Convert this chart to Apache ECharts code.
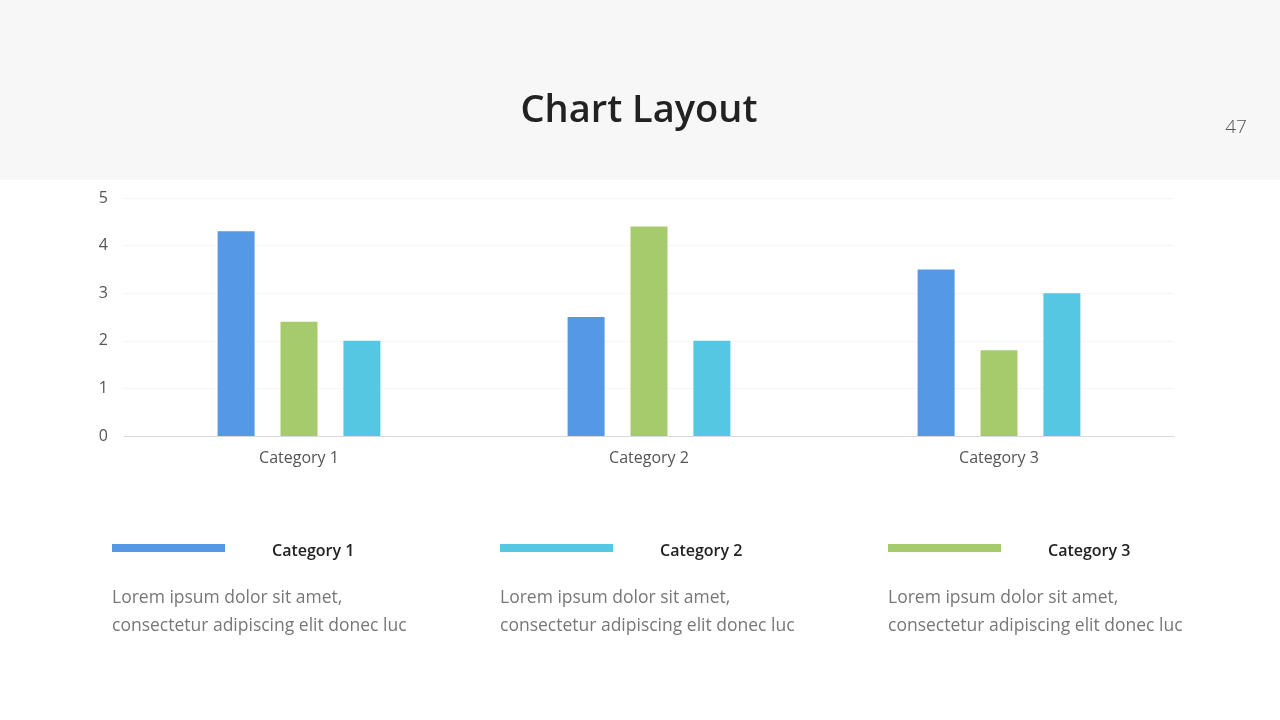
<!DOCTYPE html>
<html><head><meta charset="utf-8">
<script src="https://cdn.jsdelivr.net/npm/echarts@6/dist/echarts.min.js"></script>
<style>html,body{margin:0;padding:0;background:#fff}#c{width:1280px;height:720px}</style>
</head><body><div id="c"></div>
<script>
const categories = ['Category 1','Category 2','Category 3'];
const series1 = [4.3, 2.5, 3.5];
const series2 = [2.4, 4.4, 1.8];
const series3 = [2.0, 2.0, 3.0];
const yTicks = [0,1,2,3,4,5];
const legendTitles = ['Category 1','Category 2','Category 3'];
const legendText = ['Lorem ipsum dolor sit amet,','consectetur adipiscing elit donec luc'];
const colors = ['#5599E6','#A6CB6C','#56C7E3'];
const legendColors = ['#5599E6','#56C7E3','#A6CB6C'];
const FONT = '"Open Sans", sans-serif';

const chart = echarts.init(document.getElementById('c'));
const graphics = [
  {type:'rect', shape:{x:0,y:0,width:1280,height:180}, style:{fill:'#F7F7F7'}, z:-10},
  {type:'text', x:639, y:111, style:{text:'Chart Layout', fontSize:38, fontFamily:FONT, fontWeight:600, fill:'#222', align:'center', verticalAlign:'middle'}},
  {type:'text', x:1236, y:128, style:{text:'47', fontSize:19, fontFamily:FONT, fontWeight:300, fill:'#555', align:'center', verticalAlign:'middle'}}
];
const xs = [112, 500, 888];
xs.forEach((x,i)=>{
  graphics.push({type:'rect', shape:{x:x,y:544,width:113,height:8}, style:{fill:legendColors[i]}});
  graphics.push({type:'text', x:x+160, y:551, style:{text:legendTitles[i], fontSize:16, fontFamily:FONT, fontWeight:600, fill:'#222', verticalAlign:'middle'}});
  graphics.push({type:'text', x:x, y:598, style:{text:legendText[0], fontSize:17.5, fontFamily:FONT, fill:'#777', verticalAlign:'middle'}});
  graphics.push({type:'text', x:x, y:626, style:{text:legendText[1], fontSize:17.5, fontFamily:FONT, fill:'#777', verticalAlign:'middle'}});
});

chart.setOption({
  animation:false,
  color: colors,
  grid:{left:124, right:106, top:198, bottom:284},
  graphic: graphics,
  xAxis:{type:'category', data:categories,
    axisLine:{lineStyle:{color:'#D9D9D9'}}, axisTick:{show:false},
    axisLabel:{color:'#555', fontSize:16, fontFamily:FONT, margin:14}},
  yAxis:{type:'value', min:yTicks[0], max:yTicks[yTicks.length-1], interval:1,
    axisLine:{show:false}, axisTick:{show:false},
    splitLine:{lineStyle:{color:'#F6F6F6'}},
    axisLabel:{color:'#555', fontSize:16, fontFamily:FONT, margin:16, padding:[4,0,0,0]}},
  series:[
    {type:'bar', name:'Series 1', data:series1, barWidth:37, barGap:'70%'},
    {type:'bar', name:'Series 2', data:series2, barWidth:37, barGap:'70%'},
    {type:'bar', name:'Series 3', data:series3, barWidth:37, barGap:'70%'}
  ]
});
</script></body></html>
